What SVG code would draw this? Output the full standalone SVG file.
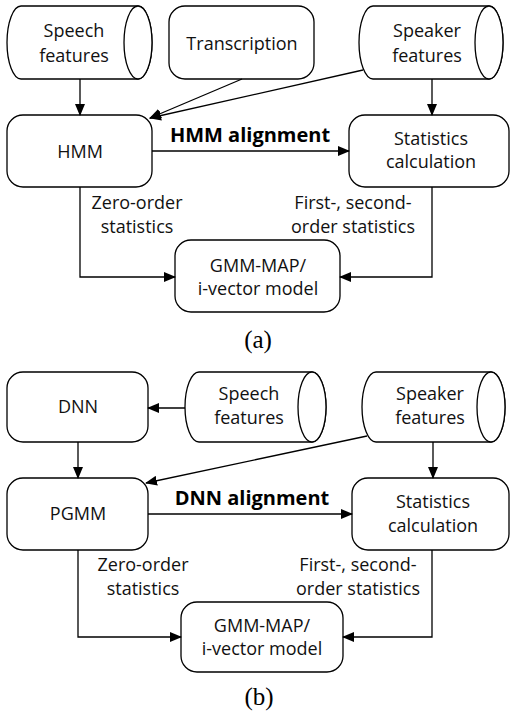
<svg xmlns="http://www.w3.org/2000/svg" width="510" height="715" viewBox="0 0 510 715">
<defs>
<style>
.box{fill:#fff;stroke:#000;stroke-width:1.3}
.cyl{fill:#fff;stroke:#000;stroke-width:1.3}
.t{font-family:"Open Sans","Liberation Sans",sans-serif;font-size:18px;fill:#111;text-anchor:middle}
.b{font-family:"Open Sans","Liberation Sans",sans-serif;font-size:20px;font-weight:bold;fill:#000;text-anchor:middle}
.cap{font-family:"Liberation Serif",serif;font-size:25px;fill:#000;text-anchor:middle}
.c{fill:none;stroke:#000;stroke-width:1.3}
</style>
<marker id="ah" markerUnits="userSpaceOnUse" markerWidth="12" markerHeight="10" viewBox="0 0 12 10" refX="11" refY="5" orient="auto">
<path d="M0,0 L12,5 L0,10 Z" fill="#000"/>
</marker>
</defs>
<rect width="510" height="715" fill="#fff"/>

<!-- (a) -->
<g id="a-speech">
<path class="cyl" d="M21,6 L138,6 A14,36.5 0 0 1 138,79 L21,79 A14,36.5 0 0 1 21,6 Z"/>
<ellipse class="cyl" cx="138" cy="42.5" rx="14" ry="36.5"/>
<text class="t" x="74" y="37">Speech</text>
<text class="t" x="74" y="62">features</text>
</g>
<g id="a-transcription">
<rect class="box" x="169" y="6" width="145" height="73" rx="16"/>
<text class="t" x="242" y="50">Transcription</text>
</g>
<g id="a-speaker">
<path class="cyl" d="M373,6 L489,6 A14,36.5 0 0 1 489,79 L373,79 A14,36.5 0 0 1 373,6 Z"/>
<ellipse class="cyl" cx="489" cy="42.5" rx="14" ry="36.5"/>
<text class="t" x="427" y="37">Speaker</text>
<text class="t" x="427" y="62">features</text>
</g>
<g id="a-hmm">
<rect class="box" x="7" y="115" width="145" height="72" rx="16"/>
<text class="t" x="80" y="158">HMM</text>
</g>
<g id="a-stats">
<rect class="box" x="349" y="115" width="160" height="72" rx="16"/>
<text class="t" x="431" y="145">Statistics</text>
<text class="t" x="431" y="168">calculation</text>
</g>
<g id="a-gmm">
<rect class="box" x="175" y="240" width="165" height="72" rx="16"/>
<text class="t" x="258" y="272">GMM-MAP/</text>
<text class="t" x="258" y="295">i-vector model</text>
</g>
<g id="a-connectors">
<line class="c" x1="80" y1="79" x2="80" y2="115" marker-end="url(#ah)"/>
<line class="c" x1="432" y1="79" x2="432" y2="115" marker-end="url(#ah)"/>
<line class="c" x1="242" y1="79" x2="150" y2="118" marker-end="url(#ah)"/>
<line class="c" x1="363" y1="70" x2="150" y2="118" marker-end="url(#ah)"/>
<line class="c" x1="152" y1="151" x2="349" y2="151" marker-end="url(#ah)"/>
<polyline class="c" points="80,187 80,277 175,277" marker-end="url(#ah)"/>
<polyline class="c" points="432,187 432,277 340,277" marker-end="url(#ah)"/>
</g>
<g id="a-labels">
<text class="b" x="250" y="142">HMM alignment</text>
<text class="t" x="137" y="209">Zero-order</text>
<text class="t" x="137" y="233">statistics</text>
<text class="t" x="353" y="209">First-, second-</text>
<text class="t" x="353" y="233">order statistics</text>
<text class="cap" x="258" y="348">(a)</text>
</g>

<!-- (b) -->
<g id="b-dnn">
<rect class="box" x="7" y="372" width="141" height="70" rx="16"/>
<text class="t" x="78" y="413">DNN</text>
</g>
<g id="b-speech">
<path class="cyl" d="M199,372 L312,372 A14,35 0 0 1 312,442 L199,442 A14,35 0 0 1 199,372 Z"/>
<ellipse class="cyl" cx="312" cy="407" rx="14" ry="35"/>
<text class="t" x="249" y="400">Speech</text>
<text class="t" x="249" y="424">features</text>
</g>
<g id="b-speaker">
<path class="cyl" d="M376,372 L491,372 A14,35 0 0 1 491,442 L376,442 A14,35 0 0 1 376,372 Z"/>
<ellipse class="cyl" cx="491" cy="407" rx="14" ry="35"/>
<text class="t" x="430" y="400">Speaker</text>
<text class="t" x="430" y="424">features</text>
</g>
<g id="b-pgmm">
<rect class="box" x="7" y="478" width="141" height="72" rx="16"/>
<text class="t" x="78" y="520">PGMM</text>
</g>
<g id="b-stats">
<rect class="box" x="352" y="478" width="157" height="72" rx="16"/>
<text class="t" x="433" y="508">Statistics</text>
<text class="t" x="433" y="532">calculation</text>
</g>
<g id="b-gmm">
<rect class="box" x="181" y="602" width="162" height="70" rx="16"/>
<text class="t" x="262" y="632">GMM-MAP/</text>
<text class="t" x="262" y="655">i-vector model</text>
</g>
<g id="b-connectors">
<line class="c" x1="185" y1="408" x2="148" y2="408" marker-end="url(#ah)"/>
<line class="c" x1="78" y1="442" x2="78" y2="478" marker-end="url(#ah)"/>
<line class="c" x1="433" y1="442" x2="433" y2="478" marker-end="url(#ah)"/>
<line class="c" x1="367" y1="436" x2="146" y2="483" marker-end="url(#ah)"/>
<line class="c" x1="148" y1="514" x2="352" y2="514" marker-end="url(#ah)"/>
<polyline class="c" points="78,550 78,637 181,637" marker-end="url(#ah)"/>
<polyline class="c" points="432,550 432,637 343,637" marker-end="url(#ah)"/>
</g>
<g id="b-labels">
<text class="b" x="252" y="505">DNN alignment</text>
<text class="t" x="143" y="571">Zero-order</text>
<text class="t" x="143" y="595">statistics</text>
<text class="t" x="358" y="571">First-, second-</text>
<text class="t" x="358" y="595">order statistics</text>
<text class="cap" x="259" y="705">(b)</text>
</g>
</svg>
